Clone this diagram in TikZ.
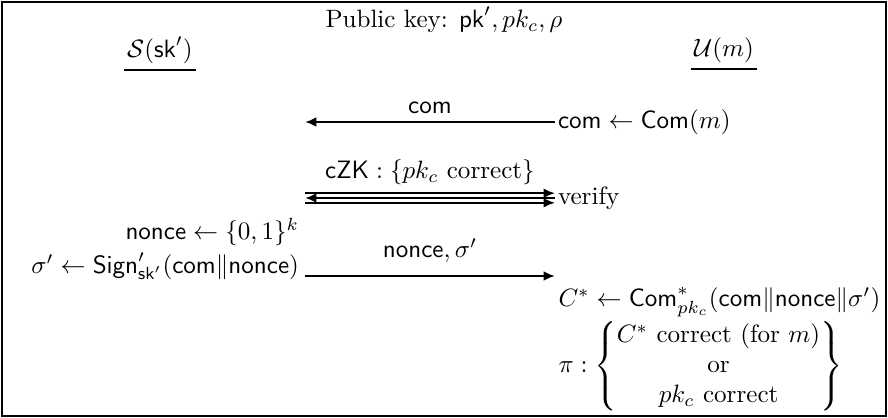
\documentclass[tikz,border=0pt]{standalone}
\usepackage{amsmath,amssymb}
\usetikzlibrary{positioning,calc,arrows.meta}

\begin{document}
\begin{tikzpicture}[
    x=0.0140cm, y=-0.0140cm,
    msg/.style={draw, line width=0.8pt, -{Latex[length=4.5pt,width=3.8pt]}},
    lbl/.style={inner sep=1pt, font=\normalsize},
    party/.style={inner sep=1pt}
]
    \useasboundingbox (0,0) rectangle (888,418);
    \draw[line width=0.8pt] (2,2) rectangle (886,416);

    \node [lbl] (pubkey) at (444,20) {Public key: $\mathsf{pk}', pk_c, \rho$};
    \node [party] (server) at (160,50) {$\mathcal{S}(\mathsf{sk}')$};
    \node [party] (user) at (724,50) {$\mathcal{U}(m)$};
    \draw [line width=0.8pt] ([yshift=-1.5pt]server.south west) -- ([yshift=-1.5pt]server.south east);
    \draw [line width=0.8pt] ([yshift=-1.5pt]user.south west) -- ([yshift=-1.5pt]user.south east);

    % Commitment
    \coordinate (comL) at (305,122);
    \coordinate (comR) at (555,122);
    \node [lbl, anchor=west] (comstep) at (comR) {$\mathsf{com} \leftarrow \mathsf{Com}(m)$};
    \draw [msg] (comR) -- node [lbl, above=2pt] (comlbl) {$\mathsf{com}$} (comL);

    % Zero-knowledge proof
    \coordinate (zkL) at (305,198);
    \coordinate (zkR) at (555,198);
    \node [lbl, anchor=west] (verify) at (zkR) {verify};
    \draw [msg] ([yshift=1.9pt]zkL) -- node [lbl, above=2pt] (zklbl) {$\mathsf{cZK} : \{pk_c \text{ correct}\}$} ([yshift=1.9pt]zkR);
    \draw [msg] (zkR) -- (zkL);
    \draw [msg] ([yshift=-1.9pt]zkL) -- ([yshift=-1.9pt]zkR);

    % Nonce and signature
    \node [lbl, anchor=east] (nonce) at (302,232) {$\mathsf{nonce} \leftarrow \{0,1\}^k$};
    \coordinate (sigL) at (305,276);
    \coordinate (sigR) at (555,276);
    \node [lbl, anchor=east] (sign) at (302,266) {$\sigma' \leftarrow \mathsf{Sign}'_{\mathsf{sk}'}(\mathsf{com}\|\mathsf{nonce})$};
    \draw [msg] (sigL) -- node [lbl, above=4pt] (siglbl) {$\mathsf{nonce}, \sigma'$} (sigR);

    % Final commitment and proof
    \node [lbl, anchor=west, inner sep=0pt] (cstar) at (558,302) {$C^* \leftarrow \mathsf{Com}^*_{pk_c}(\mathsf{com}\|\mathsf{nonce}\|\sigma')$};
    \node [lbl, anchor=south west, inner sep=0pt] (proof) at (558,412) {$\pi : \left\{\begin{matrix} C^* \text{ correct (for } m) \\ \text{or} \\ pk_c \text{ correct} \end{matrix}\right\}$};
\end{tikzpicture}
\end{document}
